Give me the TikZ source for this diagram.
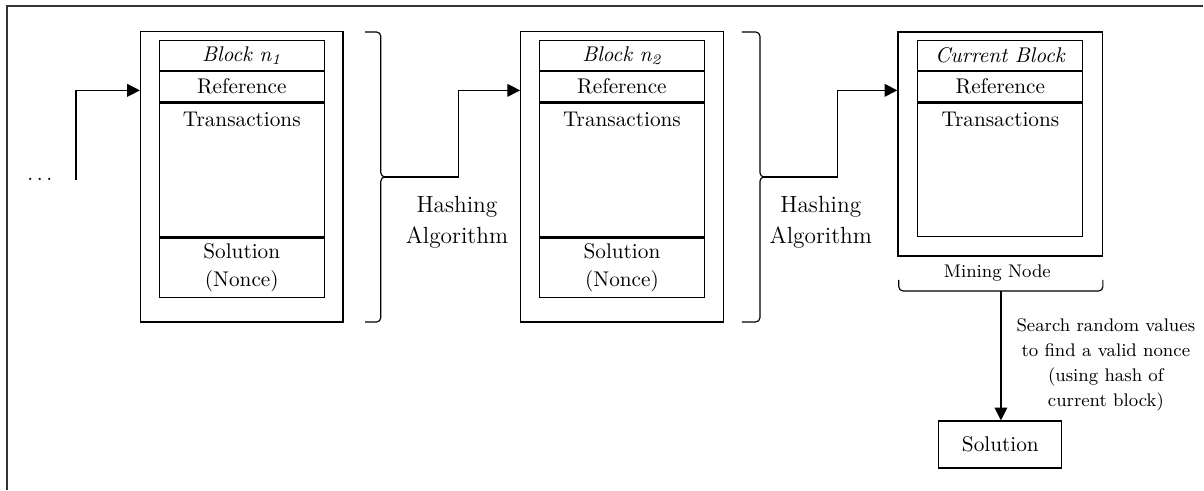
\documentclass[tikz,border=0pt]{standalone}
\usetikzlibrary{arrows.meta,positioning}
\tikzset{
  blk/.style={draw,line width=0.55pt,inner sep=0,minimum width=3.35cm},
  cell/.style={draw,line width=0.55pt,inner sep=0,minimum width=2.73cm,anchor=north},
  conn/.style={line width=0.55pt,-{Triangle[length=6pt,width=6pt]}},
  brc/.style={line width=0.55pt,rounded corners=2pt},
  lbl/.style={align=center,font=\fontsize{11}{14.6}\selectfont},
  note/.style={align=center,font=\fontsize{8.6}{11.8}\selectfont},
}

\begin{document}
\begin{tikzpicture}
\useasboundingbox (0,0) rectangle (19.92,-8.11);
\draw[line width=0.9pt,black!80] (0.116,-8.11) -- (0.116,-0.099) -- (19.9,-0.099);

% blocks of the chain
\foreach \i/\x in {1/4.0,2/10.29}{
  \node[blk,minimum height=4.8cm] (b\i) at (\x,-2.928) {};
  \node[cell,minimum height=0.491cm] (t\i) at (\x,-0.662) {\textit{Block n\textsubscript{\i}}};
  \node[cell,minimum height=0.506cm] (r\i) at (t\i.south) {Reference};
  \node[cell,minimum height=2.212cm] (x\i) at (r\i.south) {};
  \node[below=1pt] (xl\i) at (x\i.north) {Transactions};
  \node[cell,minimum height=0.981cm,align=center] (s\i) at (x\i.south) {Solution\\[1.5pt](Nonce)};
}

% mining node
\node[blk,minimum width=3.39cm,minimum height=3.706cm] (b3) at (16.551,-2.382) {};
\node[cell,minimum height=0.491cm] (t3) at (16.551,-0.662) {\textit{Current Block}};
\node[cell,minimum height=0.506cm] (r3) at (t3.south) {Reference};
\node[cell,minimum height=2.212cm] (x3) at (r3.south) {};
\node[below=1pt] (xl3) at (x3.north) {Transactions};
\node[note] (mn) at (16.50,-4.516) {Mining Node};
\draw[brc] (14.87,-4.63) -- (14.87,-4.814) -- (18.247,-4.814) -- (18.247,-4.63);
\coordinate (mb) at (16.56,-4.814);

% braces
\draw[brc] (6.04,-0.529) -- (6.30,-0.529) -- (6.30,-2.928) -- (6.37,-2.928);
\draw[brc] (6.37,-2.928) -- (6.30,-2.928) -- (6.30,-5.327) -- (6.04,-5.327);
\coordinate (h1) at (6.37,-2.928);
\draw[brc] (12.275,-0.529) -- (12.573,-0.529) -- (12.573,-2.928) -- (12.64,-2.928);
\draw[brc] (12.64,-2.928) -- (12.573,-2.928) -- (12.573,-5.327) -- (12.275,-5.327);
\coordinate (h2) at (12.64,-2.928);
\node[lbl] (ha1) at (7.56,-3.68) {Hashing\\Algorithm};
\node[lbl] (ha2) at (13.58,-3.68) {Hashing\\Algorithm};

\node[anchor=base] (dots) at (0.66,-2.98) {$\ldots$};
\coordinate (start) at (1.257,-2.978);
\draw[conn] (start) |- ([yshift=-0.06cm]b1.west |- r1);
\draw[conn] (h1) -- ++(1.21,0) |- ([yshift=-0.06cm]b2.west |- r2);
\draw[conn] (h2) -- ++(1.21,0) |- ([yshift=-0.06cm]b3.west |- r3);

\node[draw,line width=0.55pt,minimum width=2.035cm,minimum height=0.778cm] (sol) at (16.55,-7.353) {Solution};
\draw[conn] (mb) -- (mb |- sol.north);
\node[note] (srch) at (18.296,-6.038) {Search random values\\to find a valid nonce\\(using hash of\\current block)};
\end{tikzpicture}
\end{document}
